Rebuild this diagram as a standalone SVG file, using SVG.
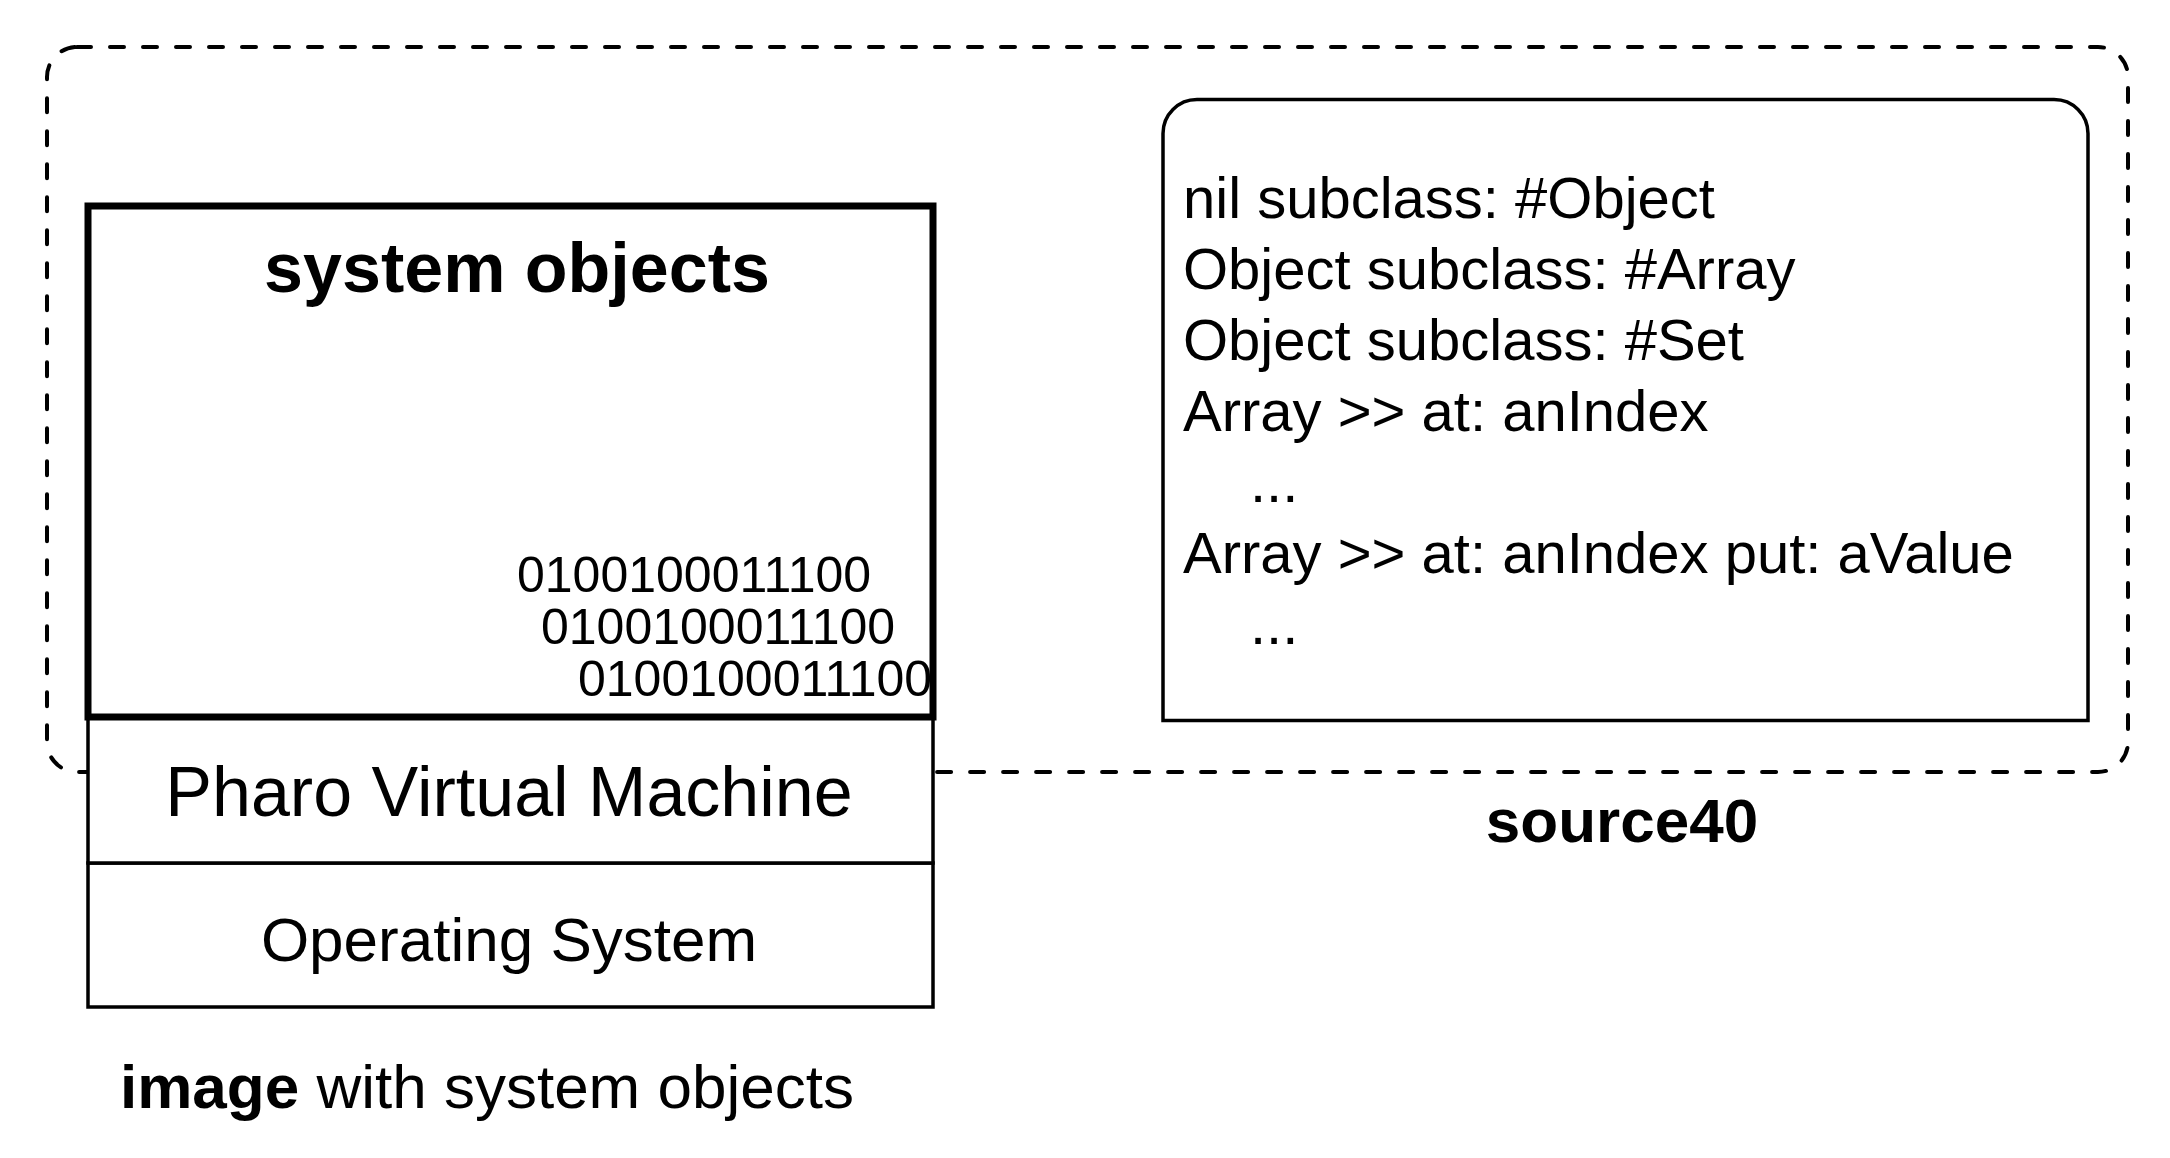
<svg xmlns="http://www.w3.org/2000/svg" width="2170" height="1158" viewBox="0 0 2170 1158">
<style>
text { font-family: "Liberation Sans", Arial, Helvetica, sans-serif; fill: #000; }
.b { font-weight: bold; }
.box { fill: #fff; stroke: #000; }
.src { font-size: 58px; }
.bin { font-size: 50px; }
</style>
<defs>
  <clipPath id="sysclip"><rect x="88" y="206" width="842" height="511"/></clipPath>
</defs>
<rect width="2170" height="1158" fill="#fff"/>
<g id="source40-area">
  <rect x="47" y="47" width="2081" height="725" rx="30" ry="30" fill="none" stroke="#000" stroke-width="4" stroke-dasharray="14 19" stroke-linecap="round"/>
  <text class="b" x="1622" y="842" font-size="62" text-anchor="middle">source40</text>
</g>
<g id="source-box">
  <path class="box" d="M1163 720.5 V133.5 A34 34 0 0 1 1197 99.5 H2054 A34 34 0 0 1 2088 133.5 V720.5 Z" stroke-width="3.5"/>
  <text class="src" x="1183" y="218">nil subclass: #Object</text>
  <text class="src" x="1183" y="289">Object subclass: #Array</text>
  <text class="src" x="1183" y="360">Object subclass: #Set</text>
  <text class="src" x="1183" y="431">Array &gt;&gt; at: anIndex</text>
  <text class="src" x="1250" y="502">...</text>
  <text class="src" x="1183" y="573">Array &gt;&gt; at: anIndex put: aValue</text>
  <text class="src" x="1250" y="644">...</text>
</g>
<g id="os-layer">
  <rect class="box" x="88" y="863" width="845" height="144" stroke-width="3.5"/>
  <text x="509" y="961" font-size="62" text-anchor="middle">Operating System</text>
</g>
<g id="vm-layer">
  <rect class="box" x="88" y="717" width="845" height="146" stroke-width="3.5"/>
  <text x="509" y="816" font-size="70" text-anchor="middle">Pharo Virtual Machine</text>
</g>
<g id="system-objects">
  <rect class="box" x="88" y="206" width="845" height="511" stroke-width="7"/>
  <text class="b" x="517" y="292" font-size="70" text-anchor="middle">system objects</text>
  <g clip-path="url(#sysclip)">
    <text class="bin" x="517" y="592">0100100011100</text>
    <text class="bin" x="541" y="644">0100100011100</text>
    <text class="bin" x="578" y="696">0100100011100</text>
  </g>
</g>
<g id="caption">
  <text x="120" y="1108" font-size="62"><tspan class="b">image</tspan> with system objects</text>
</g>
<g id="connectors"></g>
</svg>
